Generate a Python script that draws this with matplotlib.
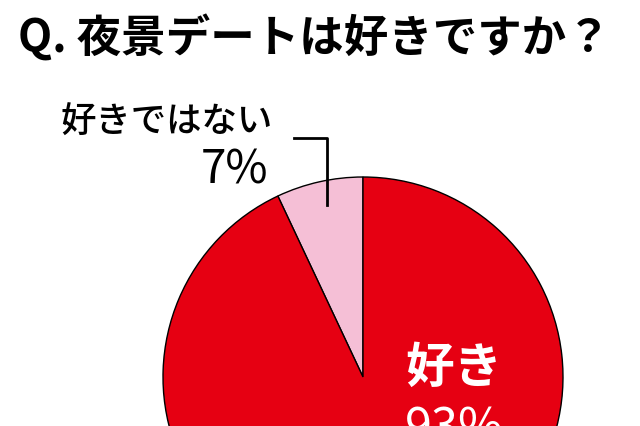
import matplotlib
matplotlib.use("Agg")
import matplotlib.pyplot as plt

plt.rcParams['font.family'] = ['Noto Sans CJK JP', 'DejaVu Sans']

title = "Q. 夜景デートは好きですか？"
labels = ["好きではない", "好き"]
values = [7, 93]
colors = ["#f5bfd6", "#e60012"]

W, H = 640, 426
fig = plt.figure(figsize=(W / 100, H / 100), dpi=100)
ax = fig.add_axes([0, 0, 1, 1])

# pie placed in pixel coordinates (y measured from the bottom)
ax.pie(values, colors=colors, startangle=90, counterclock=True,
       center=(363, H - 377), radius=200,
       wedgeprops=dict(edgecolor="black", linewidth=1.0))

ax.set_xlim(0, W)
ax.set_ylim(0, H)
ax.set_aspect("equal")
ax.set_axis_off()

ax.text(18, H - 39, title, fontsize=32, fontweight="bold",
        ha="left", va="center")

# small slice label with leader line
ax.text(61, H - 123, labels[0], fontsize=25.5, fontweight="medium",
        ha="left", va="center")
ax.text(268, H - 170, f"{values[0]}%", fontsize=33, ha="right", va="center")
ax.plot([294, 327, 327], [H - 138, H - 138, H - 205], color="black", lw=2)

# big slice label
ax.text(454, H - 368, labels[1], fontsize=35, color="white",
        ha="center", va="center", fontweight="bold")
ax.text(454, H - 430, f"{values[1]}%", fontsize=35, color="white",
        ha="center", va="center")

fig.savefig("out.png", dpi=100)
